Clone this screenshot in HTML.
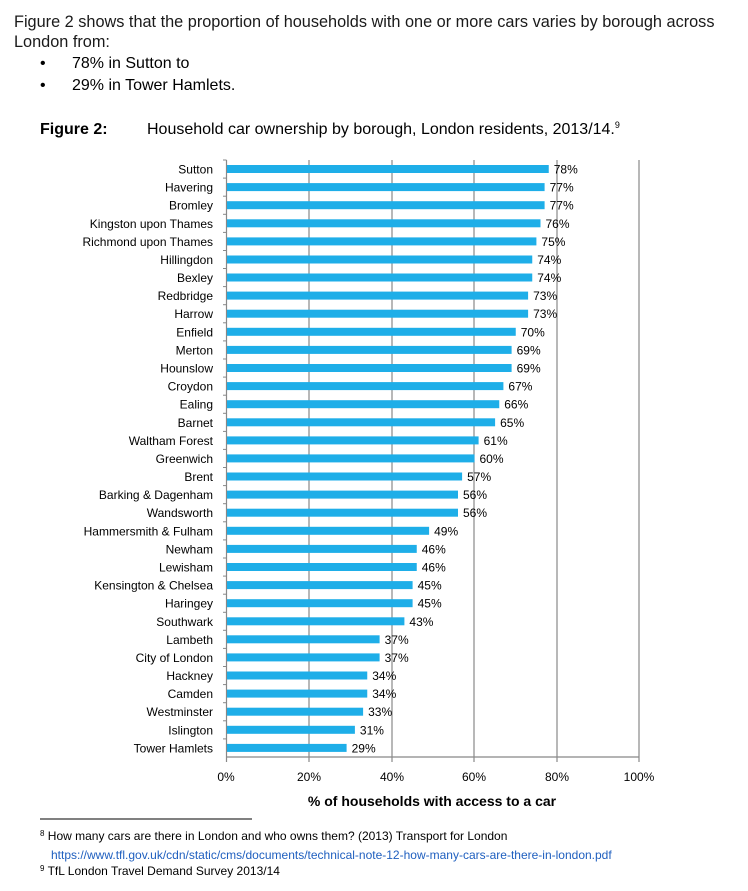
<!DOCTYPE html>
<html><head><meta charset="utf-8"><style>
body{margin:0;background:#fff;width:748px;height:886px;overflow:hidden;font-family:"Liberation Sans",sans-serif;color:#1a1a1a}
</style></head><body>
<svg width="748" height="886" xmlns="http://www.w3.org/2000/svg" font-family="Liberation Sans, sans-serif">
<text x="14" y="27" font-size="16.3" fill="#1a1a1a">Figure 2 shows that the proportion of households with one or more cars varies by borough across</text>
<text x="14" y="47" font-size="16.3" fill="#1a1a1a">London from:</text>
<text x="40" y="68" font-size="16">•</text><text x="72" y="68" font-size="16">78% in Sutton to</text>
<text x="40" y="90" font-size="16">•</text><text x="72" y="90" font-size="16">29% in Tower Hamlets.</text>
<text x="40" y="134" font-size="16" font-weight="bold">Figure 2:</text>
<text x="147" y="134" font-size="16">Household car ownership by borough, London residents, 2013/14.<tspan font-size="9" dy="-6">9</tspan></text>
<g stroke="#888" stroke-width="1.2">
<line x1="309" y1="160" x2="309" y2="762"/><line x1="392" y1="160" x2="392" y2="762"/><line x1="474" y1="160" x2="474" y2="762"/><line x1="557" y1="160" x2="557" y2="762"/><line x1="639" y1="160" x2="639" y2="762"/>
<line x1="226.5" y1="160" x2="226.5" y2="762"/><line x1="226.5" y1="757" x2="639" y2="757"/>
</g>
<defs><style>.b{fill:#1eaee8}.l{font-size:12px;text-anchor:end}.v{font-size:12px}.t{stroke:#888}</style></defs>
<g transform="translate(0,169)"><rect class="b" x="227" y="-4" width="321.75" height="8"/><line class="t" x1="223" y1="-9" x2="226.5" y2="-9"/><text class="l" x="213" y="4.5">Sutton</text><text class="v" x="553.75" y="4.5">78%</text></g>
<g transform="translate(0,187.1)"><rect class="b" x="227" y="-4" width="317.6" height="8"/><line class="t" x1="223" y1="-9" x2="226.5" y2="-9"/><text class="l" x="213" y="4.5">Havering</text><text class="v" x="549.6" y="4.5">77%</text></g>
<g transform="translate(0,205.2)"><rect class="b" x="227" y="-4" width="317.6" height="8"/><line class="t" x1="223" y1="-9" x2="226.5" y2="-9"/><text class="l" x="213" y="4.5">Bromley</text><text class="v" x="549.6" y="4.5">77%</text></g>
<g transform="translate(0,223.3)"><rect class="b" x="227" y="-4" width="313.5" height="8"/><line class="t" x1="223" y1="-9" x2="226.5" y2="-9"/><text class="l" x="213" y="4.5">Kingston upon Thames</text><text class="v" x="545.5" y="4.5">76%</text></g>
<g transform="translate(0,241.4)"><rect class="b" x="227" y="-4" width="309.4" height="8"/><line class="t" x1="223" y1="-9" x2="226.5" y2="-9"/><text class="l" x="213" y="4.5">Richmond upon Thames</text><text class="v" x="541.4" y="4.5">75%</text></g>
<g transform="translate(0,259.5)"><rect class="b" x="227" y="-4" width="305.25" height="8"/><line class="t" x1="223" y1="-9" x2="226.5" y2="-9"/><text class="l" x="213" y="4.5">Hillingdon</text><text class="v" x="537.25" y="4.5">74%</text></g>
<g transform="translate(0,277.5)"><rect class="b" x="227" y="-4" width="305.25" height="8"/><line class="t" x1="223" y1="-9" x2="226.5" y2="-9"/><text class="l" x="213" y="4.5">Bexley</text><text class="v" x="537.25" y="4.5">74%</text></g>
<g transform="translate(0,295.6)"><rect class="b" x="227" y="-4" width="301.1" height="8"/><line class="t" x1="223" y1="-9" x2="226.5" y2="-9"/><text class="l" x="213" y="4.5">Redbridge</text><text class="v" x="533.1" y="4.5">73%</text></g>
<g transform="translate(0,313.7)"><rect class="b" x="227" y="-4" width="301.1" height="8"/><line class="t" x1="223" y1="-9" x2="226.5" y2="-9"/><text class="l" x="213" y="4.5">Harrow</text><text class="v" x="533.1" y="4.5">73%</text></g>
<g transform="translate(0,331.8)"><rect class="b" x="227" y="-4" width="288.75" height="8"/><line class="t" x1="223" y1="-9" x2="226.5" y2="-9"/><text class="l" x="213" y="4.5">Enfield</text><text class="v" x="520.75" y="4.5">70%</text></g>
<g transform="translate(0,349.9)"><rect class="b" x="227" y="-4" width="284.6" height="8"/><line class="t" x1="223" y1="-9" x2="226.5" y2="-9"/><text class="l" x="213" y="4.5">Merton</text><text class="v" x="516.6" y="4.5">69%</text></g>
<g transform="translate(0,368)"><rect class="b" x="227" y="-4" width="284.6" height="8"/><line class="t" x1="223" y1="-9" x2="226.5" y2="-9"/><text class="l" x="213" y="4.5">Hounslow</text><text class="v" x="516.6" y="4.5">69%</text></g>
<g transform="translate(0,386.1)"><rect class="b" x="227" y="-4" width="276.4" height="8"/><line class="t" x1="223" y1="-9" x2="226.5" y2="-9"/><text class="l" x="213" y="4.5">Croydon</text><text class="v" x="508.4" y="4.5">67%</text></g>
<g transform="translate(0,404.2)"><rect class="b" x="227" y="-4" width="272.25" height="8"/><line class="t" x1="223" y1="-9" x2="226.5" y2="-9"/><text class="l" x="213" y="4.5">Ealing</text><text class="v" x="504.25" y="4.5">66%</text></g>
<g transform="translate(0,422.3)"><rect class="b" x="227" y="-4" width="268.1" height="8"/><line class="t" x1="223" y1="-9" x2="226.5" y2="-9"/><text class="l" x="213" y="4.5">Barnet</text><text class="v" x="500.1" y="4.5">65%</text></g>
<g transform="translate(0,440.4)"><rect class="b" x="227" y="-4" width="251.6" height="8"/><line class="t" x1="223" y1="-9" x2="226.5" y2="-9"/><text class="l" x="213" y="4.5">Waltham Forest</text><text class="v" x="483.6" y="4.5">61%</text></g>
<g transform="translate(0,458.4)"><rect class="b" x="227" y="-4" width="247.5" height="8"/><line class="t" x1="223" y1="-9" x2="226.5" y2="-9"/><text class="l" x="213" y="4.5">Greenwich</text><text class="v" x="479.5" y="4.5">60%</text></g>
<g transform="translate(0,476.5)"><rect class="b" x="227" y="-4" width="235.1" height="8"/><line class="t" x1="223" y1="-9" x2="226.5" y2="-9"/><text class="l" x="213" y="4.5">Brent</text><text class="v" x="467.1" y="4.5">57%</text></g>
<g transform="translate(0,494.6)"><rect class="b" x="227" y="-4" width="231" height="8"/><line class="t" x1="223" y1="-9" x2="226.5" y2="-9"/><text class="l" x="213" y="4.5">Barking &amp; Dagenham</text><text class="v" x="463" y="4.5">56%</text></g>
<g transform="translate(0,512.7)"><rect class="b" x="227" y="-4" width="231" height="8"/><line class="t" x1="223" y1="-9" x2="226.5" y2="-9"/><text class="l" x="213" y="4.5">Wandsworth</text><text class="v" x="463" y="4.5">56%</text></g>
<g transform="translate(0,530.8)"><rect class="b" x="227" y="-4" width="202.1" height="8"/><line class="t" x1="223" y1="-9" x2="226.5" y2="-9"/><text class="l" x="213" y="4.5">Hammersmith &amp; Fulham</text><text class="v" x="434.1" y="4.5">49%</text></g>
<g transform="translate(0,548.9)"><rect class="b" x="227" y="-4" width="189.75" height="8"/><line class="t" x1="223" y1="-9" x2="226.5" y2="-9"/><text class="l" x="213" y="4.5">Newham</text><text class="v" x="421.75" y="4.5">46%</text></g>
<g transform="translate(0,567)"><rect class="b" x="227" y="-4" width="189.75" height="8"/><line class="t" x1="223" y1="-9" x2="226.5" y2="-9"/><text class="l" x="213" y="4.5">Lewisham</text><text class="v" x="421.75" y="4.5">46%</text></g>
<g transform="translate(0,585.1)"><rect class="b" x="227" y="-4" width="185.6" height="8"/><line class="t" x1="223" y1="-9" x2="226.5" y2="-9"/><text class="l" x="213" y="4.5">Kensington &amp; Chelsea</text><text class="v" x="417.6" y="4.5">45%</text></g>
<g transform="translate(0,603.2)"><rect class="b" x="227" y="-4" width="185.6" height="8"/><line class="t" x1="223" y1="-9" x2="226.5" y2="-9"/><text class="l" x="213" y="4.5">Haringey</text><text class="v" x="417.6" y="4.5">45%</text></g>
<g transform="translate(0,621.3)"><rect class="b" x="227" y="-4" width="177.4" height="8"/><line class="t" x1="223" y1="-9" x2="226.5" y2="-9"/><text class="l" x="213" y="4.5">Southwark</text><text class="v" x="409.4" y="4.5">43%</text></g>
<g transform="translate(0,639.3)"><rect class="b" x="227" y="-4" width="152.6" height="8"/><line class="t" x1="223" y1="-9" x2="226.5" y2="-9"/><text class="l" x="213" y="4.5">Lambeth</text><text class="v" x="384.6" y="4.5">37%</text></g>
<g transform="translate(0,657.4)"><rect class="b" x="227" y="-4" width="152.6" height="8"/><line class="t" x1="223" y1="-9" x2="226.5" y2="-9"/><text class="l" x="213" y="4.5">City of London</text><text class="v" x="384.6" y="4.5">37%</text></g>
<g transform="translate(0,675.5)"><rect class="b" x="227" y="-4" width="140.25" height="8"/><line class="t" x1="223" y1="-9" x2="226.5" y2="-9"/><text class="l" x="213" y="4.5">Hackney</text><text class="v" x="372.25" y="4.5">34%</text></g>
<g transform="translate(0,693.6)"><rect class="b" x="227" y="-4" width="140.25" height="8"/><line class="t" x1="223" y1="-9" x2="226.5" y2="-9"/><text class="l" x="213" y="4.5">Camden</text><text class="v" x="372.25" y="4.5">34%</text></g>
<g transform="translate(0,711.7)"><rect class="b" x="227" y="-4" width="136.1" height="8"/><line class="t" x1="223" y1="-9" x2="226.5" y2="-9"/><text class="l" x="213" y="4.5">Westminster</text><text class="v" x="368.1" y="4.5">33%</text></g>
<g transform="translate(0,729.8)"><rect class="b" x="227" y="-4" width="127.9" height="8"/><line class="t" x1="223" y1="-9" x2="226.5" y2="-9"/><text class="l" x="213" y="4.5">Islington</text><text class="v" x="359.9" y="4.5">31%</text></g>
<g transform="translate(0,747.9)"><rect class="b" x="227" y="-4" width="119.6" height="8"/><line class="t" x1="223" y1="-9" x2="226.5" y2="-9"/><text class="l" x="213" y="4.5">Tower Hamlets</text><text class="v" x="351.6" y="4.5">29%</text></g>
<g font-size="12" fill="#000">
<text x="226" y="781" text-anchor="middle">0%</text><text x="309" y="781" text-anchor="middle">20%</text><text x="392" y="781" text-anchor="middle">40%</text><text x="474" y="781" text-anchor="middle">60%</text><text x="557" y="781" text-anchor="middle">80%</text><text x="639" y="781" text-anchor="middle">100%</text>
</g>
<text x="432" y="806" font-size="14" font-weight="bold" text-anchor="middle">% of households with access to a car</text>
<line x1="40" y1="819" x2="252" y2="819" stroke="#000" stroke-width="1"/>
<text x="40" y="840" font-size="12"><tspan font-size="8" dy="-4">8</tspan><tspan dy="4"> How many cars are there in London and who owns them? (2013) Transport for London</tspan></text>
<text x="51" y="859" font-size="12" fill="#1f5fbf">https://www.tfl.gov.uk/cdn/static/cms/documents/technical-note-12-how-many-cars-are-there-in-london.pdf</text>
<text x="40" y="875" font-size="12"><tspan font-size="8" dy="-4">9</tspan><tspan dy="4"> TfL London Travel Demand Survey 2013/14</tspan></text>
</svg>
</body></html>
